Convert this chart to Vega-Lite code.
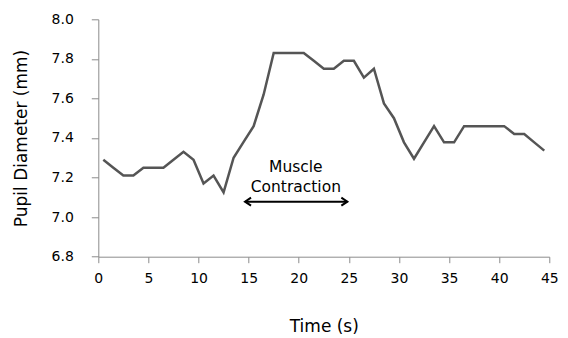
{
  "$schema": "https://vega.github.io/schema/vega-lite/v6.json",
  "width": 451,
  "height": 237.4,
  "autosize": {"type": "none"},
  "padding": {"left": 98.3, "top": 19.3, "right": 18, "bottom": 81},
  "config": {
    "view": {"stroke": null},
    "font": "DejaVu Sans",
    "axis": {"grid": false, "domainColor": "#8c8c8c", "tickColor": "#8c8c8c", "labelColor": "#000000", "titleColor": "#000000", "labelFontSize": 14, "titleFontSize": 17, "titleFontWeight": "normal", "labelFont": "DejaVu Sans", "titleFont": "DejaVu Sans", "labelOverlap": false}
  },
  "datasets": {
    "series": [
      {"t": 0.5, "d": 7.29}, {"t": 1.5, "d": 7.25}, {"t": 2.5, "d": 7.21}, {"t": 3.5, "d": 7.21},
      {"t": 4.5, "d": 7.25}, {"t": 5.5, "d": 7.25}, {"t": 6.5, "d": 7.25}, {"t": 7.5, "d": 7.29},
      {"t": 8.5, "d": 7.33}, {"t": 9.5, "d": 7.29}, {"t": 10.5, "d": 7.17}, {"t": 11.5, "d": 7.21},
      {"t": 12.5, "d": 7.125}, {"t": 13.5, "d": 7.3}, {"t": 14.5, "d": 7.38}, {"t": 15.5, "d": 7.46},
      {"t": 16.5, "d": 7.62}, {"t": 17.5, "d": 7.83}, {"t": 18.5, "d": 7.83}, {"t": 19.5, "d": 7.83},
      {"t": 20.5, "d": 7.83}, {"t": 21.5, "d": 7.79}, {"t": 22.5, "d": 7.75}, {"t": 23.5, "d": 7.75},
      {"t": 24.5, "d": 7.79}, {"t": 25.5, "d": 7.79}, {"t": 26.5, "d": 7.705}, {"t": 27.5, "d": 7.75},
      {"t": 28.5, "d": 7.575}, {"t": 29.5, "d": 7.5}, {"t": 30.5, "d": 7.378}, {"t": 31.5, "d": 7.295},
      {"t": 32.5, "d": 7.378}, {"t": 33.5, "d": 7.46}, {"t": 34.5, "d": 7.378}, {"t": 35.5, "d": 7.378},
      {"t": 36.5, "d": 7.46}, {"t": 37.5, "d": 7.46}, {"t": 38.5, "d": 7.46}, {"t": 39.5, "d": 7.46},
      {"t": 40.5, "d": 7.46}, {"t": 41.5, "d": 7.42}, {"t": 42.5, "d": 7.42}, {"t": 43.5, "d": 7.378},
      {"t": 44.5, "d": 7.336}
    ],
    "arrow": [
      {"t1": 14.64, "t2": 24.85, "d": 7.078}
    ],
    "heads": [
      {"t": 14.64, "d": 7.078, "side": "left"},
      {"t": 24.85, "d": 7.078, "side": "right"}
    ],
    "labels": [
      {"t": 19.71, "d": 7.252, "label": "Muscle"},
      {"t": 19.71, "d": 7.151, "label": "Contraction"}
    ]
  },
  "layer": [
    {
      "data": {"name": "series"},
      "mark": {"type": "line", "color": "#555555", "strokeWidth": 2.5},
      "encoding": {
        "x": {"field": "t", "type": "quantitative", "scale": {"domain": [0, 45], "nice": false},
          "axis": {"title": "Time (s)", "values": [0, 5, 10, 15, 20, 25, 30, 35, 40, 45], "tickCount": 10, "tickSize": 6, "labelPadding": 9, "titlePadding": 33, "labelFlush": false}},
        "y": {"field": "d", "type": "quantitative", "scale": {"domain": [6.8, 8.0], "nice": false, "zero": false},
          "axis": {"title": "Pupil Diameter (mm)", "values": [6.8, 7.0, 7.2, 7.4, 7.6, 7.8, 8.0], "tickCount": 7, "format": ".1f", "tickSize": 7, "labelPadding": 18, "titlePadding": 21, "labelFlush": false}}
      }
    },
    {
      "data": {"name": "arrow"},
      "mark": {"type": "rule", "color": "#000000", "strokeWidth": 2},
      "encoding": {
        "x": {"field": "t1", "type": "quantitative"},
        "x2": {"field": "t2"},
        "y": {"field": "d", "type": "quantitative"}
      }
    },
    {
      "data": {"name": "heads"},
      "transform": [{"filter": "datum.side == 'left'"}],
      "mark": {"type": "point", "shape": "M1.5,-1L0,0L1.5,1", "filled": false, "stroke": "#000000", "strokeWidth": 2, "size": 64, "opacity": 1},
      "encoding": {
        "x": {"field": "t", "type": "quantitative"},
        "y": {"field": "d", "type": "quantitative"}
      }
    },
    {
      "data": {"name": "heads"},
      "transform": [{"filter": "datum.side == 'right'"}],
      "mark": {"type": "point", "shape": "M-1.5,-1L0,0L-1.5,1", "filled": false, "stroke": "#000000", "strokeWidth": 2, "size": 64, "opacity": 1},
      "encoding": {
        "x": {"field": "t", "type": "quantitative"},
        "y": {"field": "d", "type": "quantitative"}
      }
    },
    {
      "data": {"name": "labels"},
      "mark": {"type": "text", "fontSize": 15.5, "font": "DejaVu Sans", "color": "#000000", "align": "center", "baseline": "middle"},
      "encoding": {
        "x": {"field": "t", "type": "quantitative"},
        "y": {"field": "d", "type": "quantitative"},
        "text": {"field": "label"}
      }
    }
  ]
}
